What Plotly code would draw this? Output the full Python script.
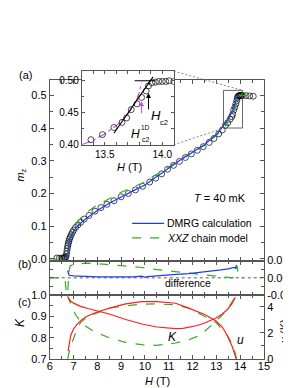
import plotly.graph_objects as go

# ---------------- data ----------------
H_exp = [6.30, 6.40, 6.50, 6.55, 6.60, 6.63, 6.66, 6.68, 6.70, 6.72, 6.74, 6.76, 6.78, 6.80,
         6.83, 6.86, 6.90, 6.95, 7.00, 7.08, 7.18, 7.30, 7.45, 7.65, 7.90, 8.15, 8.40, 8.70,
         9.00, 9.30, 9.60, 9.90, 10.20, 10.45, 10.70, 10.95, 11.20, 11.45, 11.70, 11.95,
         12.20, 12.45, 12.70, 12.90, 13.10, 13.25, 13.38, 13.48, 13.58, 13.65, 13.69, 13.73,
         13.78, 13.82, 13.86, 13.88, 13.91, 13.94, 13.97, 14.00, 14.03, 14.06, 14.10, 14.25,
         14.40, 14.55]
m_exp = [0.003, 0.002, 0.003, 0.002, 0.003, 0.004, 0.004, 0.008, 0.015, 0.024, 0.033, 0.041,
         0.048, 0.054, 0.061, 0.067, 0.074, 0.081, 0.088, 0.096, 0.104, 0.112, 0.122, 0.133,
         0.146, 0.157, 0.167, 0.178, 0.190, 0.200, 0.211, 0.222, 0.235, 0.247, 0.260, 0.274,
         0.286, 0.298, 0.310, 0.321, 0.332, 0.343, 0.356, 0.368, 0.382, 0.394, 0.408, 0.416,
         0.427, 0.435, 0.442, 0.455, 0.464, 0.474, 0.484, 0.492, 0.497, 0.498, 0.499, 0.499,
         0.499, 0.500, 0.499, 0.499, 0.498, 0.497]

H_dmrg = [6.75, 6.77, 6.80, 6.85, 6.90, 7.00, 7.10, 7.20, 7.35, 7.50, 7.75, 8.00, 8.50, 9.00,
          9.50, 10.00, 10.50, 11.00, 11.50, 12.00, 12.50, 13.00, 13.25, 13.50, 13.60, 13.70,
          13.75, 13.80, 13.84, 13.87]
m_dmrg = [0.000, 0.035, 0.050, 0.062, 0.071, 0.085, 0.095, 0.103, 0.113, 0.122, 0.135, 0.148,
          0.170, 0.190, 0.208, 0.226, 0.252, 0.279, 0.303, 0.326, 0.349, 0.380, 0.402, 0.428,
          0.440, 0.456, 0.466, 0.478, 0.490, 0.500]

H_xxz = [6.00, 6.50, 6.74, 6.76, 6.80, 6.85, 6.90, 7.00, 7.10, 7.20, 7.35, 7.50, 7.75, 8.00,
         8.50, 9.00, 9.50, 10.00, 10.50, 11.00, 11.50, 12.00, 12.50, 13.00, 13.25, 13.50,
         13.60, 13.70, 13.75, 13.80, 13.83, 13.86, 14.00, 14.30, 14.60]
m_xxz = [0.000, 0.000, 0.000, 0.030, 0.050, 0.066, 0.078, 0.096, 0.108, 0.117, 0.128, 0.140,
         0.153, 0.165, 0.184, 0.204, 0.219, 0.236, 0.259, 0.282, 0.305, 0.327, 0.347, 0.377,
         0.395, 0.418, 0.428, 0.442, 0.453, 0.468, 0.480, 0.500, 0.500, 0.500, 0.500]

# panel (b): differences
H_d_dmrg = [6.75, 6.77, 6.81, 7.00, 7.50, 8.00, 8.50, 9.00, 9.50, 9.87, 10.00, 10.10, 10.30,
            10.60, 11.16, 11.84, 12.51, 13.19, 13.50, 13.74, 13.80, 13.85]
d_dmrg = [0.0085, 0.0050, 0.0030, 0.0022, 0.0015, 0.0012, 0.0010, 0.0010, 0.0012, 0.0019,
          0.0005, 0.0015, 0.0020, 0.0028, 0.0037, 0.0048, 0.0067, 0.0092, 0.0105, 0.0122,
          0.0110, 0.0150]
H_d_xxz = [6.00, 6.30, 6.60, 6.65, 6.68, 6.74, 6.77, 6.80, 6.86, 7.00, 7.15, 7.56, 8.00,
           8.51, 9.00, 9.32, 9.87, 10.20, 10.48, 11.16, 11.84, 12.51, 13.19, 13.50, 13.67,
           13.75, 13.82, 13.87, 13.92, 13.96, 14.14]
d_xxz = [0.0000, 0.0000, 0.0000, -0.0040, -0.0300, -0.0300, -0.0100, 0.0060, 0.0140, 0.0155,
         0.0160, 0.0170, 0.0165, 0.0152, 0.0145, 0.0140, 0.0120, 0.0105, 0.0095, 0.0075,
         0.0056, 0.0030, 0.0012, 0.0005, 0.0000, 0.0010, 0.0080, 0.0140, 0.0040, 0.0000,
         0.0000]

# panel (c): Luttinger parameters
H_K_dmrg = [6.76, 6.80, 6.88, 7.00, 7.29, 7.60, 7.97, 8.50, 9.19, 9.87, 10.50, 11.00, 11.29,
            11.60, 11.84, 12.20, 12.51, 12.99, 13.20, 13.46, 13.65, 13.80]
K_dmrg = [0.990, 0.982, 0.971, 0.962, 0.947, 0.937, 0.927, 0.911, 0.885, 0.864, 0.850, 0.844,
          0.842, 0.844, 0.849, 0.857, 0.869, 0.892, 0.907, 0.931, 0.958, 0.990]
H_u_dmrg = [6.77, 6.80, 6.88, 7.00, 7.15, 7.35, 7.56, 7.97, 8.51, 9.19, 9.87, 10.50, 11.00,
            11.29, 11.84, 12.20, 12.51, 12.99, 13.25, 13.46, 13.67, 13.80, 13.84]
u_dmrg = [0.60, 1.00, 1.80, 2.30, 2.67, 3.00, 3.28, 3.58, 3.90, 4.22, 4.39, 4.40, 4.33, 4.27,
          3.90, 3.65, 3.41, 2.91, 2.45, 1.80, 0.94, 0.20, 0.00]
H_K_xxz = [6.75, 6.80, 6.95, 7.10, 7.29, 7.50, 7.83, 8.51, 9.19, 9.87, 10.50, 11.29, 11.84,
           12.20, 12.51, 12.99, 13.40, 13.67, 13.80, 13.85]
K_xxz = [1.000, 0.980, 0.939, 0.905, 0.877, 0.855, 0.830, 0.799, 0.778, 0.767, 0.764, 0.775,
         0.790, 0.806, 0.830, 0.877, 0.924, 0.971, 0.994, 1.000]
H_u_xxz = [6.75, 6.77, 6.85, 6.95, 7.10, 7.29, 7.50, 7.83, 8.51, 9.19, 9.87, 10.50, 11.29,
           11.84, 12.51, 12.99, 13.46, 13.73, 13.80, 13.85]
u_xxz = [0.00, 0.20, 0.80, 1.31, 2.10, 2.79, 3.10, 3.41, 3.90, 4.07, 4.20, 4.22, 4.15, 3.90,
         3.28, 2.79, 1.80, 0.94, 0.40, 0.00]

# inset extras
H_1d = [13.30, 13.40, 13.50, 13.60, 13.65, 13.70, 13.75, 13.78, 13.80, 13.82]
m_1d = [0.400, 0.407, 0.417, 0.430, 0.438, 0.448, 0.461, 0.472, 0.482, 0.497]
H_tan = [13.58, 13.92]
m_tan = [0.418, 0.506]
H_sat = [13.76, 13.94]
m_sat = [0.500, 0.500]
Hc2_1d = 13.82
Hc2 = 13.88

# axis ranges
X_RANGE = [6, 15]
A_RANGE = [-0.005, 0.547]
B_RANGE = [-0.02, 0.02]
K_RANGE = [0.70, 1.00]
U_RANGE = [0, 4.9]
IX_RANGE = [13.3, 14.1]
IY_RANGE = [0.40, 0.515]

W, Hh = 291, 388
XDOM = [40 / W, 261 / W]
A_DOM = [1 - 254.5 / Hh, 1 - 68 / Hh]
B_DOM = [1 - 290 / Hh, 1 - 254.5 / Hh]
C_DOM = [1 - 356 / Hh, 1 - 290 / Hh]
IX_DOM = [73 / W, 168 / W]
IY_DOM = [1 - 135 / Hh, 1 - 59 / Hh]

BLUE = "#1f3ee8"
GREEN = "#3aaa1e"
RED = "#ff1e1e"
MAG = "#c050f5"
AX = "#555555"
FONT = "Liberation Sans, Arial, sans-serif"

fig = go.Figure()

circ = dict(symbol="circle-open", size=6, color="black", line=dict(width=0.7, color="black"))

# panel (a)
fig.add_trace(go.Scatter(x=H_exp, y=m_exp, mode="markers", marker=circ, xaxis="x", yaxis="y"))
fig.add_trace(go.Scatter(x=H_xxz, y=m_xxz, mode="lines", line=dict(color=GREEN, width=1.2, dash="dash"),
                         xaxis="x", yaxis="y"))
fig.add_trace(go.Scatter(x=H_dmrg, y=m_dmrg, mode="lines", line=dict(color=BLUE, width=1.2),
                         xaxis="x", yaxis="y"))
# panel (b)
fig.add_trace(go.Scatter(x=X_RANGE, y=[0, 0], mode="lines", line=dict(color="#333", width=0.8, dash="dot"),
                         xaxis="x2", yaxis="y2"))
fig.add_trace(go.Scatter(x=H_d_xxz, y=d_xxz, mode="lines", line=dict(color=GREEN, width=1.2, dash="dash"),
                         xaxis="x2", yaxis="y2"))
fig.add_trace(go.Scatter(x=H_d_dmrg, y=d_dmrg, mode="lines", line=dict(color=BLUE, width=1.2),
                         xaxis="x2", yaxis="y2"))
# panel (c)
fig.add_trace(go.Scatter(x=H_K_xxz, y=K_xxz, mode="lines", line=dict(color=GREEN, width=1.2, dash="dash"),
                         xaxis="x3", yaxis="y3"))
fig.add_trace(go.Scatter(x=H_u_xxz, y=u_xxz, mode="lines", line=dict(color=GREEN, width=1.2, dash="dash"),
                         xaxis="x3", yaxis="y5"))
fig.add_trace(go.Scatter(x=H_K_dmrg, y=K_dmrg, mode="lines", line=dict(color=RED, width=1.2),
                         xaxis="x3", yaxis="y3"))
fig.add_trace(go.Scatter(x=H_u_dmrg, y=u_dmrg, mode="lines", line=dict(color=RED, width=1.2),
                         xaxis="x3", yaxis="y5"))
# inset
fig.add_trace(go.Scatter(x=H_1d, y=m_1d, mode="lines", line=dict(color=MAG, width=1.1, dash="dashdot"),
                         xaxis="x4", yaxis="y4"))
fig.add_trace(go.Scatter(x=H_exp, y=m_exp, mode="markers", marker=circ, xaxis="x4", yaxis="y4"))
fig.add_trace(go.Scatter(x=H_tan, y=m_tan, mode="lines", line=dict(color="black", width=1.1),
                         xaxis="x4", yaxis="y4"))
fig.add_trace(go.Scatter(x=H_sat, y=m_sat, mode="lines", line=dict(color="black", width=1.1),
                         xaxis="x4", yaxis="y4"))


def axstyle(**kw):
    d = dict(showline=True, linecolor=AX, linewidth=1, ticks="inside", tickcolor=AX, ticklen=4,
             tickwidth=1, mirror="ticks", zeroline=False, showgrid=False,
             tickfont=dict(size=11, family=FONT, color="black"))
    d.update(kw)
    return d


minor_x = dict(dtick=0.5, ticklen=3, ticks="inside", tickcolor=AX, showgrid=False)

layout = dict(
    width=W, height=Hh, margin=dict(l=0, r=0, t=0, b=0), autosize=False,
    paper_bgcolor="white", plot_bgcolor="white", showlegend=False,
    font=dict(family=FONT, size=11, color="black"),
    xaxis=axstyle(domain=XDOM, range=X_RANGE, anchor="y", dtick=1, showticklabels=False, minor=minor_x),
    yaxis=axstyle(domain=A_DOM, range=A_RANGE, anchor="x", dtick=0.1, tickformat=".1f",
                  minor=dict(dtick=0.05, ticklen=3, ticks="inside", tickcolor=AX)),
    xaxis2=axstyle(domain=XDOM, range=X_RANGE, anchor="y2", dtick=1, showticklabels=False, minor=minor_x),
    yaxis2=axstyle(domain=B_DOM, range=B_RANGE, anchor="x2", side="right",
                   tickvals=[-0.02, 0.0, 0.02], ticktext=["-0.02", "0.00", "0.02"],
                   minor=dict(dtick=0.01, ticklen=3, ticks="inside", tickcolor=AX)),
    xaxis3=axstyle(domain=XDOM, range=X_RANGE, anchor="y3", dtick=1, minor=minor_x, ticklabelstandoff=-3),
    yaxis3=axstyle(domain=C_DOM, range=K_RANGE, anchor="x3", dtick=0.1, tickformat=".1f", mirror=False,
                   minor=dict(dtick=0.05, ticklen=3, ticks="inside", tickcolor=AX)),
    yaxis5=axstyle(domain=C_DOM, range=U_RANGE, anchor="x3", overlaying="y3", side="right", dtick=2,
                   mirror=False, minor=dict(dtick=1, ticklen=3, ticks="inside", tickcolor=AX)),
    xaxis4=axstyle(domain=IX_DOM, range=IX_RANGE, anchor="y4", tick0=13.5, dtick=0.5, tickformat=".1f",
                   tickfont=dict(size=10, family=FONT, color="black"), ticklen=3,
                   minor=dict(dtick=0.1, ticklen=2.5, ticks="inside", tickcolor=AX)),
    yaxis4=axstyle(domain=IY_DOM, range=IY_RANGE, anchor="x4", dtick=0.05, tickformat=".2f",
                   tickfont=dict(size=10, family=FONT, color="black"), ticklen=3,
                   minor=dict(dtick=0.025, ticklen=2.5, ticks="inside", tickcolor=AX)),
)
fig.update_layout(**layout)


def px_x(v, dom, rng):
    return dom[0] + (v - rng[0]) / (rng[1] - rng[0]) * (dom[1] - dom[0])


def P(x, y):
    return x / W, 1 - y / Hh


shapes = []
# zoom rectangle in main panel
shapes.append(dict(type="rect", xref="x", yref="y", x0=IX_RANGE[0], x1=IX_RANGE[1],
                   y0=IY_RANGE[0], y1=IY_RANGE[1], line=dict(color=AX, width=0.9)))
# connecting dashed lines (paper coords from axis mappings)
rx1 = px_x(IX_RANGE[1], XDOM, X_RANGE)
rx0 = px_x(IX_RANGE[0], XDOM, X_RANGE)
ry1 = px_x(IY_RANGE[1], A_DOM, A_RANGE)
ry0 = px_x(IY_RANGE[0], A_DOM, A_RANGE)
shapes.append(dict(type="line", xref="paper", yref="paper", x0=IX_DOM[1], y0=IY_DOM[1], x1=rx1, y1=ry1,
                   line=dict(color="#666", width=0.8, dash="2px,2px")))
shapes.append(dict(type="line", xref="paper", yref="paper", x0=IX_DOM[1], y0=IY_DOM[0], x1=rx0, y1=ry0,
                   line=dict(color="#666", width=0.8, dash="2px,2px")))
# legend samples
lx0, ly = P(125, 216)
lx1, _ = P(158, 216)
shapes.append(dict(type="line", xref="paper", yref="paper", x0=lx0, x1=lx1, y0=ly, y1=ly,
                   line=dict(color=BLUE, width=1.2)))
_, ly2 = P(125, 231)
shapes.append(dict(type="line", xref="paper", yref="paper", x0=lx0, x1=lx1, y0=ly2, y1=ly2,
                   line=dict(color=GREEN, width=1.2, dash="dash")))
fig.update_layout(shapes=shapes)

ann = []


def T(text, x, y, size=11, angle=0, xanchor="center", color="black"):
    px, py = P(x, y)
    ann.append(dict(text=text, x=px, y=py, xref="paper", yref="paper", showarrow=False,
                    font=dict(size=size, family=FONT, color=color), textangle=angle,
                    xanchor=xanchor, yanchor="middle"))


T("(a)", 15, 63, 11)
T("(b)", 14, 258, 11)
T("(c)", 14, 297, 11)
T("<i>m</i><sub>z</sub>", 10, 166, 11, angle=-90)
T("<i>K</i>", 9, 318, 12, angle=-90)
T("<i>u</i> (K)", 282, 327, 11, angle=-90)
T("<i>H</i> (T)", 151, 379, 11)
T("<i>T</i> = 40 mK", 216, 190, 11)
T("DMRG calculation", 159, 216, 10.5, xanchor="left")
T("<i>XXZ</i> chain model", 159, 231, 10.5, xanchor="left")
T("difference", 183, 278, 10.5)
T("<i>K</i>", 167, 333, 12)
T("<i>u</i>", 237, 336, 12)
T("<i>H</i> (T)", 122, 158, 11)
T("<i>H</i>", 128, 124, 12)
T("1D", 139, 117, 6.5)
T("c2", 139, 129, 7)
T("<i>H</i>", 150, 105, 13)
T("c2", 158, 112, 7.5)

# arrows in inset
ann.append(dict(x=Hc2, y=0.481, ax=Hc2, ay=0.453, xref="x4", yref="y4", axref="x4", ayref="y4",
                showarrow=True, arrowhead=2, arrowsize=1, arrowwidth=1, arrowcolor="black", text=""))
ann.append(dict(x=Hc2_1d, y=0.468, ax=Hc2_1d, ay=0.447, xref="x4", yref="y4", axref="x4", ayref="y4",
                showarrow=True, arrowhead=2, arrowsize=1, arrowwidth=1, arrowcolor=MAG, text=""))
fig.update_layout(annotations=ann)

fig.write_html("out.html")
